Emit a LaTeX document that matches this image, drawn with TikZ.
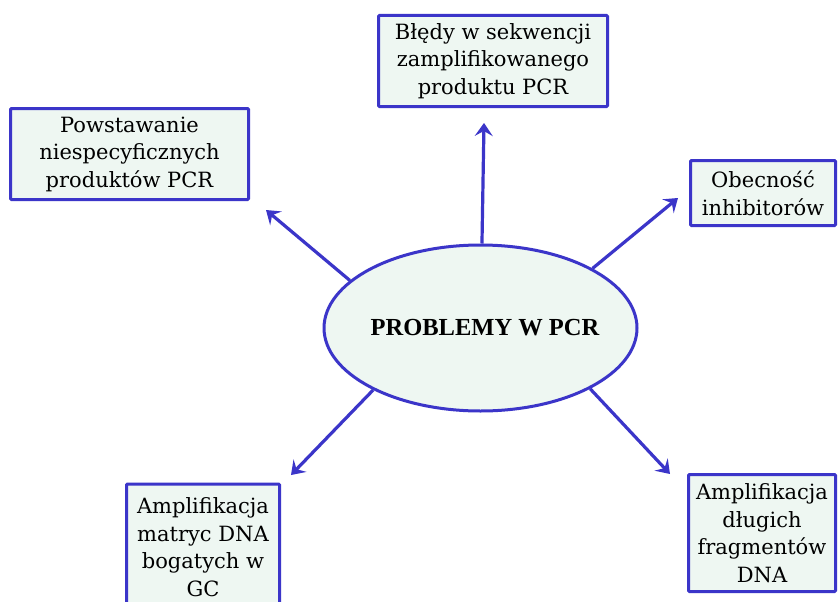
\documentclass[tikz,border=0pt]{standalone}
\usepackage{fontspec}
\setmainfont{Liberation Serif}
\newfontfamily\boxfont{DejaVu Serif}
\usetikzlibrary{shapes.geometric, arrows.meta}

\definecolor{rim}{HTML}{3B35C9}
\definecolor{pale}{HTML}{EEF7F2}

\tikzset{
    topic/.style={draw=rim, fill=pale, line width=3pt, rounded corners=1pt,
        align=center, inner sep=2pt, font=\boxfont\fontsize{21}{27.5}\selectfont},
    core/.style={ellipse, draw=rim, fill=pale, line width=3pt,
        minimum width=313pt, minimum height=166pt, inner sep=0pt,
        font=\fontsize{24.5}{28}\selectfont\bfseries},
    link/.style={draw=rim, line width=3.2pt,
        -{Stealth[length=13pt, width=18pt, inset=5pt]}}
}

\begin{document}
\begin{tikzpicture}[x=1pt, y=-1pt]
    \clip (0,0) rectangle (838,602);
    \fill[white] (0,0) rectangle (838,602);

    \node[core] (pcr) at (480.5,328) {\makebox[0pt]{\hspace*{9pt}PROBLEMY W PCR}};

    \node[topic, minimum width=229pt, minimum height=91pt] (errors) at (493,61)
        {Błędy w sekwencji\\zamplifikowanego\\produktu PCR};
    \node[topic, minimum width=238pt, minimum height=91pt] (nonspec) at (129.5,154)
        {Powstawanie\\niespecyficznych\\produktów PCR};
    \node[topic, minimum width=145pt, minimum height=65pt] (inhib) at (763,193)
        {Obecność\\inhibitorów};
    \node[topic, minimum width=153pt, minimum height=126pt] (gcrich) at (203,547)
        {Amplifikacja\\matryc DNA\\bogatych w\\GC};
    \node[topic, minimum width=147pt, minimum height=117pt] (longdna) at (762,533)
        {Amplifikacja\\długich\\fragmentów\\DNA};

    % free ends of the arrows
    \coordinate (toErrors)  at (484,123);
    \coordinate (toNonspec) at (266,210);
    \coordinate (toInhib)   at (678,198);
    \coordinate (toGcrich)  at (291,475);
    \coordinate (toLongdna) at (670,474);

    \path
    (pcr.89)    edge[link] (toErrors)
    (pcr.160.5) edge[link] (toNonspec)
    (pcr.28)    edge[link] (toInhib)
    (pcr.210)   edge[link] (toGcrich)
    (pcr.-29)   edge[link] (toLongdna);
\end{tikzpicture}
\end{document}
